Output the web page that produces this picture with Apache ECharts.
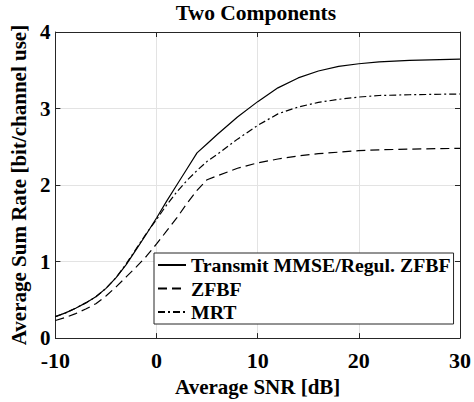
<!DOCTYPE html>
<html>
<head>
<meta charset="utf-8">
<script src="https://cdn.jsdelivr.net/npm/echarts@6/dist/echarts.min.js"></script>
<style>
  html, body { margin: 0; padding: 0; background: #fff; }
  #main { width: 474px; height: 402px; }
</style>
</head>
<body>
<div id="main"></div>
<script>
// SNR points (dB) shared by all three curves
const snrValues = [-10, -9, -8, -7, -6, -5, -4, -3, -2, -1, 0, 1, 2, 3, 4, 5, 6, 8, 10, 12, 14, 16, 18, 20, 22, 25, 30];

// average sum rate [bit/channel use]
const mmseRate = [0.28, 0.33, 0.39, 0.46, 0.54, 0.65, 0.79, 0.96, 1.16, 1.36, 1.57, 1.79, 2.0, 2.21, 2.42, 2.54, 2.66, 2.89, 3.09, 3.27, 3.40, 3.49, 3.55, 3.585, 3.61, 3.63, 3.645];
const zfbfRate = [0.23, 0.27, 0.32, 0.38, 0.45, 0.55, 0.67, 0.80, 0.93, 1.07, 1.23, 1.40, 1.57, 1.76, 1.93, 2.07, 2.12, 2.22, 2.29, 2.34, 2.38, 2.41, 2.43, 2.45, 2.46, 2.47, 2.48];
const mrtRate = [0.28, 0.33, 0.39, 0.46, 0.54, 0.65, 0.79, 0.97, 1.17, 1.37, 1.55, 1.74, 1.91, 2.06, 2.19, 2.31, 2.40, 2.60, 2.78, 2.93, 3.02, 3.08, 3.12, 3.15, 3.17, 3.18, 3.19];

const seriesNames = ['Transmit MMSE/Regul. ZFBF', 'ZFBF', 'MRT'];
const xTicks = { min: -10, max: 30, interval: 10 };
const yTicks = { min: 0, max: 4, interval: 1 };

const pairs = (ys) => snrValues.map((x, i) => [x, ys[i]]);

const chartDom = document.getElementById('main');
const myChart = echarts.init(chartDom, null, { renderer: 'svg' });

const font = "'Liberation Serif', 'Times New Roman', serif";
const axisColor = '#262626';

const option = {
    animation: false,
    title: {
        text: 'Two Components',
        left: 256,
        top: 2,
        padding: 0,
        textAlign: 'center',
        textStyle: { fontFamily: font, fontSize: 21.5, fontWeight: 'bold', color: '#000' }
    },
    grid: { left: 52, right: 13, top: 32, bottom: 62 },
    legend: {
        data: seriesNames,
        orient: 'vertical',
        left: 154,
        top: 253,
        padding: [2, 3, 2, 3],
        itemGap: 3.5,
        itemWidth: 28,
        itemHeight: 14,
        backgroundColor: '#fff',
        borderColor: axisColor,
        borderWidth: 1,
        borderRadius: 0,
        selectedMode: false,
        itemStyle: { opacity: 0 },
        textStyle: { fontFamily: font, fontSize: 19.8, fontWeight: 'bold', color: '#000', padding: 0 }
    },
    xAxis: [
        {
            type: 'value',
            min: xTicks.min, max: xTicks.max, interval: xTicks.interval,
            name: 'Average SNR [dB]',
            nameLocation: 'middle',
            nameGap: 35,
            nameTextStyle: { fontFamily: font, fontSize: 21, fontWeight: 'bold', color: '#000' },
            axisLine: { show: true, onZero: false, lineStyle: { color: axisColor, width: 1 } },
            axisTick: { show: true, inside: true, length: 5, lineStyle: { color: axisColor } },
            axisLabel: { margin: 11, fontFamily: font, fontSize: 22, fontWeight: 'bold', color: '#000' },
            splitLine: { show: true, lineStyle: { color: '#e3e3e3', width: 1 } }
        },
        {
            type: 'value', position: 'top',
            min: xTicks.min, max: xTicks.max, interval: xTicks.interval,
            axisLine: { show: true, onZero: false, lineStyle: { color: axisColor, width: 1 } },
            axisTick: { show: true, inside: true, length: 5, lineStyle: { color: axisColor } },
            axisLabel: { show: false },
            splitLine: { show: false }
        }
    ],
    yAxis: [
        {
            type: 'value',
            min: yTicks.min, max: yTicks.max, interval: yTicks.interval,
            name: 'Average Sum Rate [bit/channel use]',
            nameLocation: 'middle',
            nameGap: 20,
            nameTextStyle: { fontFamily: font, fontSize: 21, fontWeight: 'bold', color: '#000' },
            axisLine: { show: true, onZero: false, lineStyle: { color: axisColor, width: 1 } },
            axisTick: { show: true, inside: true, length: 5, lineStyle: { color: axisColor } },
            axisLabel: { margin: 5, fontFamily: font, fontSize: 21, fontWeight: 'bold', color: '#000' },
            splitLine: { show: true, lineStyle: { color: '#e3e3e3', width: 1 } }
        },
        {
            type: 'value', position: 'right',
            min: yTicks.min, max: yTicks.max, interval: yTicks.interval,
            axisLine: { show: true, onZero: false, lineStyle: { color: axisColor, width: 1 } },
            axisTick: { show: true, inside: true, length: 5, lineStyle: { color: axisColor } },
            axisLabel: { show: false },
            splitLine: { show: false }
        }
    ],
    series: [
        {
            name: seriesNames[0], type: 'line', data: pairs(mmseRate),
            symbol: 'none', smooth: false, color: '#000',
            lineStyle: { color: '#000', width: 1.2, type: 'solid' }
        },
        {
            name: seriesNames[1], type: 'line', data: pairs(zfbfRate),
            symbol: 'none', smooth: false, color: '#000',
            lineStyle: { color: '#000', width: 1.2, type: [9, 5] }
        },
        {
            name: seriesNames[2], type: 'line', data: pairs(mrtRate),
            symbol: 'none', smooth: false, color: '#000',
            lineStyle: { color: '#000', width: 1.2, type: [7, 3, 2, 3] }
        }
    ]
};

myChart.setOption(option);
</script>
</body>
</html>
